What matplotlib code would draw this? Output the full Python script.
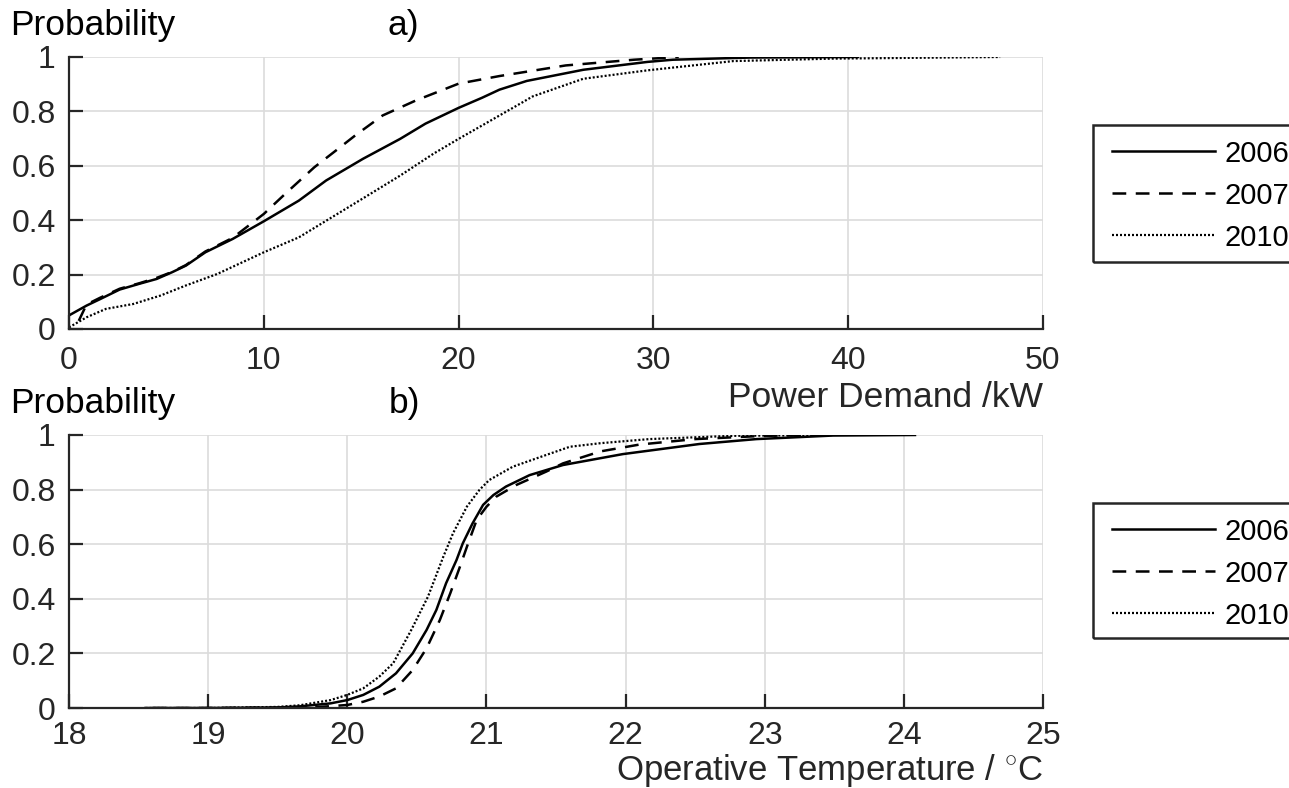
import matplotlib
matplotlib.use("Agg")
import matplotlib.pyplot as plt
from matplotlib.patches import Rectangle

plt.rcParams['font.family'] = ['Liberation Sans', 'DejaVu Sans']
plt.rcParams['mathtext.fontset'] = 'custom'
plt.rcParams['mathtext.rm'] = 'Liberation Sans'

# ---- data: power demand CDFs (panel a) ----
p06_x = [0, 0.9, 1.6, 2.6, 3.6, 4.5, 5.3, 6.0, 7.0, 8.4, 10, 11.8, 13.2, 15.1, 17, 18.3, 20, 21.2, 22.1, 23.5, 26.4, 29.7, 31.0, 35, 40.5]
p06_y = [0.05, 0.086, 0.11, 0.145, 0.166, 0.184, 0.209, 0.233, 0.282, 0.331, 0.396, 0.472, 0.546, 0.626, 0.699, 0.755, 0.813, 0.85, 0.880, 0.912, 0.953, 0.982, 0.99, 0.998, 1.0]
p07_x = [0.5, 0.9, 1.6, 2.6, 3.6, 4.5, 5.3, 6.0, 7.0, 8.4, 10, 11.1, 12.6, 13.7, 14.7, 16.1, 17.8, 20, 22.1, 25.5, 29, 31.3]
p07_y = [0.03, 0.09, 0.115, 0.148, 0.168, 0.188, 0.21, 0.235, 0.285, 0.335, 0.423, 0.497, 0.595, 0.656, 0.712, 0.785, 0.84, 0.902, 0.93, 0.969, 0.99, 1.0]
p10_x = [0, 0.9, 1.9, 3.3, 4.7, 6.0, 7.6, 10, 11.8, 13.5, 15.2, 17, 18.7, 20, 21.2, 22.1, 23.15, 23.8, 26.4, 29.7, 34.1, 39.2, 47.8]
p10_y = [0.006, 0.043, 0.074, 0.092, 0.123, 0.16, 0.202, 0.282, 0.337, 0.411, 0.485, 0.564, 0.644, 0.699, 0.748, 0.785, 0.828, 0.855, 0.92, 0.951, 0.985, 0.994, 1.0]

# ---- data: operative temperature CDFs (panel b) ----
t06_x = [18.55, 19.0, 19.5, 19.66, 19.88, 20.0, 20.115, 20.23, 20.35, 20.47, 20.57, 20.64, 20.71, 20.785, 20.83, 20.9, 20.976, 21.05, 21.14, 21.31, 21.55, 21.98, 22.53, 22.94, 23.49, 24.08]
t06_y = [0, 0, 0.002, 0.006, 0.017, 0.029, 0.048, 0.078, 0.127, 0.2, 0.286, 0.359, 0.457, 0.542, 0.603, 0.676, 0.744, 0.78, 0.811, 0.853, 0.89, 0.93, 0.967, 0.985, 0.998, 1.0]
t07_x = [18.6, 19.0, 19.5, 19.8, 20.0, 20.115, 20.23, 20.35, 20.47, 20.57, 20.665, 20.74, 20.81, 20.86, 20.93, 21.0, 21.07, 21.215, 21.43, 21.55, 21.82, 22.1, 22.5, 23.0, 23.4]
t07_y = [0, 0, 0.001, 0.004, 0.011, 0.023, 0.042, 0.072, 0.139, 0.219, 0.322, 0.42, 0.518, 0.591, 0.689, 0.737, 0.774, 0.817, 0.866, 0.896, 0.94, 0.965, 0.985, 0.997, 1.0]
t10_x = [18.55, 19.0, 19.5, 19.66, 19.88, 20.0, 20.115, 20.23, 20.33, 20.46, 20.58, 20.69, 20.76, 20.86, 20.95, 21.02, 21.19, 21.43, 21.6, 21.82, 22.17, 22.77, 23.5]
t10_y = [0, 0, 0.004, 0.01, 0.029, 0.048, 0.072, 0.115, 0.164, 0.286, 0.408, 0.554, 0.64, 0.738, 0.799, 0.835, 0.884, 0.927, 0.957, 0.97, 0.985, 0.997, 1.0]

years = ['2006', '2007', '2010']
a_xticks = [0, 10, 20, 30, 40, 50]
b_xticks = [18, 19, 20, 21, 22, 23, 24, 25]
yticks = [0, 0.2, 0.4, 0.6, 0.8, 1]
ytick_labels = ['0', '0.2', '0.4', '0.6', '0.8', '1']

W, H = 1289, 788
fig = plt.figure(figsize=(W / 100, H / 100), dpi=100)

AX_COL = '#262626'
TFS = 23     # tick labels
LBL = 25.5   # axis / panel labels
LFS = 21     # legend
styles = [dict(ls='-', lw=1.8), dict(ls=(0, (5.5, 3.8)), lw=1.8), dict(ls=(0, (0.9, 0.9)), lw=1.6)]


def setup(ax, xlim, xticks, xpad):
    ax.set_xlim(*xlim)
    ax.set_ylim(0, 1)
    ax.set_xticks(xticks)
    ax.set_xticklabels([str(t) for t in xticks])
    ax.set_yticks(yticks)
    ax.set_yticklabels(ytick_labels)
    for s in ['top', 'right']:
        ax.spines[s].set_visible(False)
    for s in ['left', 'bottom']:
        ax.spines[s].set_color(AX_COL)
        ax.spines[s].set_linewidth(1.6)
    ax.tick_params(direction='in', length=10, width=1.6, colors=AX_COL,
                   labelsize=TFS, labelcolor=AX_COL)
    ax.tick_params(axis='x', pad=xpad)
    ax.tick_params(axis='y', pad=9.5)
    ax.grid(True, color='#dcdcdc', lw=1.2)
    ax.set_axisbelow(True)


def add_legend(handles, row1_y, frame_top, frame_bot):
    leg = fig.legend(handles, years, loc='upper left',
                     bbox_to_anchor=(1112 / W, 1 - (row1_y - 12.5) / H),
                     bbox_transform=fig.transFigure,
                     frameon=False, fontsize=LFS,
                     handlelength=3.53, handletextpad=0.31, labelspacing=0.48,
                     borderpad=0, borderaxespad=0)
    for t in leg.get_texts():
        t.set_color('black')
    fig.patches.append(Rectangle((1093 / W, 1 - frame_bot / H), 300 / W,
                                 (frame_bot - frame_top) / H,
                                 transform=fig.transFigure, fill=False,
                                 edgecolor=AX_COL, lw=1.8))


# panel a
ax1 = fig.add_axes([69 / W, 1 - 329 / H, (1043 - 69) / W, 272 / H])
setup(ax1, (0, 50), a_xticks, 12)
h = []
for (xs, ys), st in zip([(p06_x, p06_y), (p07_x, p07_y), (p10_x, p10_y)], styles):
    ln, = ax1.plot(xs, ys, color='black', **st)
    h.append(ln)
add_legend(h, 152, 125, 262)

# panel b
ax2 = fig.add_axes([69 / W, 1 - 708 / H, (1043 - 69) / W, 273 / H])
setup(ax2, (18, 25), b_xticks, 9.5)
h = []
for (xs, ys), st in zip([(t06_x, t06_y), (t07_x, t07_y), (t10_x, t10_y)], styles):
    ln, = ax2.plot(xs, ys, color='black', **st)
    h.append(ln)
add_legend(h, 530, 503, 638)

# texts
fig.text(10 / W, 1 - 35 / H, 'Probability', fontsize=LBL, va='baseline', ha='left', color='black')
fig.text(388 / W, 1 - 35 / H, 'a)', fontsize=LBL, va='baseline', ha='left', color='black')
fig.text(10 / W, 1 - 413 / H, 'Probability', fontsize=LBL, va='baseline', ha='left', color='black')
fig.text(389 / W, 1 - 413 / H, 'b)', fontsize=LBL, va='baseline', ha='left', color='black')
fig.text(1043 / W, 1 - 407 / H, 'Power Demand /kW', fontsize=LBL, va='baseline', ha='right', color=AX_COL)
fig.text(1043 / W, 1 - 780 / H, r'Operative Temperature / $^{\circ}$C', fontsize=LBL - 0.5,
         va='baseline', ha='right', color=AX_COL)

fig.savefig('out.png', dpi=100)
